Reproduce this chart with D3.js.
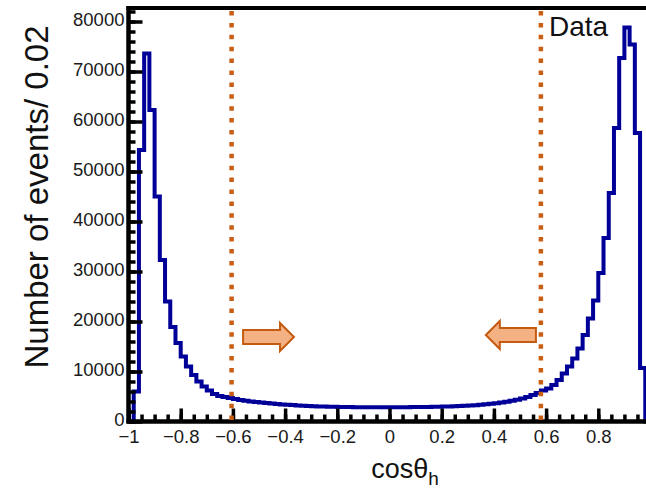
<!DOCTYPE html>
<html>
<head>
<meta charset="utf-8">
<script src="https://cdn.jsdelivr.net/npm/d3@7"></script>
<style>
  html, body { margin: 0; padding: 0; background: #fff; }
  svg { display: block; font-family: "Liberation Sans", Arial, sans-serif; }
</style>
</head>
<body>
<svg id="chart" width="646" height="491"></svg>
<script>
// Histogram of cos(theta_h): 100 bins of width 0.02 from -1 to 1
const binLow = -1;
const binWidth = 0.02;
const counts = [
  0, 6000, 54300, 73600, 62300, 45000, 32300, 24000, 18900, 15700,
  13000, 11000, 9300, 8000, 7000, 6200, 5500, 5100, 4900, 4700,
  4500, 4300, 4150, 4000, 3900, 3800, 3700, 3600, 3500, 3400,
  3350, 3300, 3200, 3150, 3100, 3050, 3000, 3000, 2950, 2950,
  2900, 2900, 2900, 2850, 2850, 2850, 2850, 2850, 2850, 2850,
  2850, 2850, 2850, 2850, 2900, 2900, 2900, 2900, 2950, 2950,
  3000, 3000, 3050, 3100, 3150, 3200, 3250, 3350, 3450, 3550,
  3650, 3800, 3950, 4150, 4350, 4600, 4900, 5300, 5700, 6200,
  6600, 7300, 8300, 9600, 11000, 12600, 14600, 17300, 20600, 24200,
  29700, 36700, 45700, 58700, 72700, 78800, 75400, 57700, 10700, 0
];

// Axis ticks
const xMajorTicks = [-1, -0.8, -0.6, -0.4, -0.2, 0, 0.2, 0.4, 0.6, 0.8];
const xMinorTicks = d3.range(-1, 1.0001, 0.05).map(v => +v.toFixed(2));
const yMajorTicks = [0, 10000, 20000, 30000, 40000, 50000, 60000, 70000, 80000];
const yMinorTicks = d3.range(0, 82001, 2000);

// Selection window and arrows pointing into it
const cutLines = [-0.605, 0.58];
const arrows = [
  { from: -0.561, to: -0.366, level: 16900 },
  { from: 0.561, to: 0.369, level: 17300 }
];

const legendLabel = "Data";
const yTitle = "Number of events/ 0.02";

const svg = d3.select("#chart");
const x = d3.scaleLinear().domain([-1, 1]).range([128.5, 650.5]);
const y = d3.scaleLinear().domain([0, 82700]).range([421.5, 8]);

// Histogram outline as a step line
const pts = [[binLow, 0]];
counts.forEach((c, i) => {
  const lo = binLow + i * binWidth;
  pts.push([lo, c], [lo + binWidth, c]);
});
pts.push([binLow + counts.length * binWidth, 0]);

svg.append("path")
  .datum(pts)
  .attr("fill", "none")
  .attr("stroke", "#000099")
  .attr("stroke-width", 4)
  .attr("stroke-linejoin", "miter")
  .attr("d", d3.line().x(d => x(d[0])).y(d => y(d[1])));

// Axes
const tickColor = "#000";
const xMinor = svg.append("g").attr("transform", `translate(0,${y(0)})`)
  .call(d3.axisBottom(x).tickValues(xMinorTicks).tickSize(-7).tickFormat(""));
const xMajor = svg.append("g").attr("transform", `translate(0,${y(0)})`)
  .call(d3.axisBottom(x).tickValues(xMajorTicks).tickSize(-13).tickPadding(8)
    .tickFormat(d3.format("")));
const yMinor = svg.append("g").attr("transform", `translate(${x(-1)},0)`)
  .call(d3.axisLeft(y).tickValues(yMinorTicks).tickSize(-7).tickFormat(""));
const yMajor = svg.append("g").attr("transform", `translate(${x(-1)},0)`)
  .call(d3.axisLeft(y).tickValues(yMajorTicks).tickSize(-14).tickPadding(4)
    .tickFormat(d3.format("d")));

[xMinor, xMajor, yMinor, yMajor].forEach(g => {
  g.select(".domain").remove();
  g.selectAll(".tick line").attr("stroke", tickColor).attr("stroke-width", 3.5);
  g.selectAll(".tick text").attr("fill", "#1a1a1a").attr("font-size", 18.5)
    .attr("font-family", "'Liberation Sans', Arial, sans-serif");
});
yMajor.selectAll(".tick text").attr("dy", "0.2em");

// Frame: left axis, bottom axis and top border
svg.append("line").attr("x1", x(-1)).attr("x2", x(-1))
  .attr("y1", y.range()[1] - 2).attr("y2", y(0) + 2)
  .attr("stroke", "#000").attr("stroke-width", 4.5);
svg.append("line").attr("x1", x(-1) - 2).attr("x2", x(1))
  .attr("y1", y(0)).attr("y2", y(0))
  .attr("stroke", "#000").attr("stroke-width", 4.5);
svg.append("line").attr("x1", x(-1) - 2).attr("x2", x(1))
  .attr("y1", y.range()[1]).attr("y2", y.range()[1])
  .attr("stroke", "#000").attr("stroke-width", 4);

// Cut lines
svg.selectAll(".cut").data(cutLines).join("line")
  .attr("class", "cut")
  .attr("x1", d => x(d)).attr("x2", d => x(d))
  .attr("y1", y.range()[1] + 3).attr("y2", y(0) - 1)
  .attr("stroke", "#C95F14").attr("stroke-width", 4.5)
  .attr("stroke-dasharray", "4.5 7.4");

// Arrows
const shaftHalf = 7, headHalf = 14, headLen = 14;
svg.selectAll(".arrow").data(arrows).join("path")
  .attr("class", "arrow")
  .attr("fill", "#F4B183")
  .attr("stroke", "#C55A11")
  .attr("stroke-width", 2)
  .attr("stroke-linejoin", "miter")
  .attr("d", a => {
    const x0 = x(a.from), x1 = x(a.to), yc = y(a.level);
    const dir = Math.sign(x1 - x0);
    const xh = x1 - dir * headLen;
    return `M${x0},${yc - shaftHalf}L${xh},${yc - shaftHalf}L${xh},${yc - headHalf}` +
      `L${x1},${yc}L${xh},${yc + headHalf}L${xh},${yc + shaftHalf}L${x0},${yc + shaftHalf}Z`;
  });

// Legend label
svg.append("text")
  .attr("x", 549).attr("y", 36)
  .attr("font-size", 28).attr("fill", "#111")
  .text(legendLabel);

// Axis titles
svg.append("text")
  .attr("transform", "translate(48,197) rotate(-90)")
  .attr("text-anchor", "middle")
  .attr("font-size", 33).attr("fill", "#111")
  .text(yTitle);

const xt = svg.append("text")
  .attr("x", 405).attr("y", 478)
  .attr("text-anchor", "middle")
  .attr("font-size", 27).attr("fill", "#111");
xt.append("tspan").text("cosθ");
xt.append("tspan").attr("dy", 7).attr("font-size", 19).text("h");
</script>
</body>
</html>
